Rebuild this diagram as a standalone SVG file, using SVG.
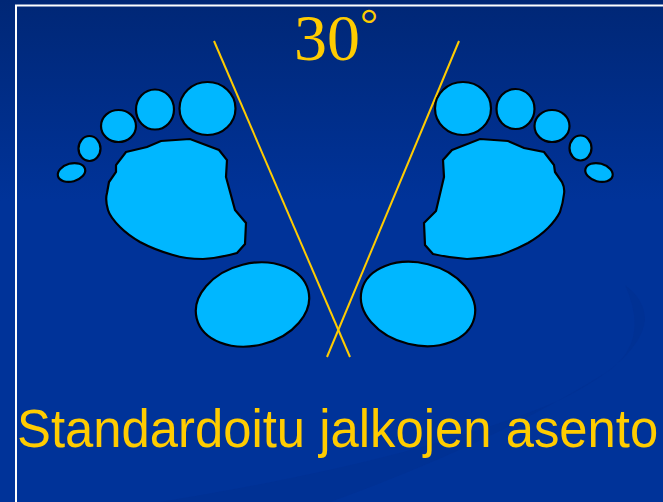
<svg xmlns="http://www.w3.org/2000/svg" width="663" height="502" viewBox="0 0 663 502">
<style>
.f{fill:#00b7ff;stroke:#000;stroke-width:2.200}
.l{stroke:#fc0;stroke-width:2;fill:none}
.t{fill:#fc0}
</style>
<defs>
<linearGradient id="bg" x1="0" y1="0" x2="0" y2="1"><stop offset="0" stop-color="#002776"/><stop offset="0.4" stop-color="#003399"/><stop offset="1" stop-color="#003399"/></linearGradient>
</defs>
<rect width="663" height="502" fill="url(#bg)"/>
<path d="M160 502Q420 460 560 400Q640 360 645 320Q645 300 625 285Q650 340 610 370Q500 440 330 502Z" fill="#003090" opacity="0.55"/>
<path d="M16 502V5.500H663" fill="none" stroke="#fff" stroke-width="2"/>
<g id="connectors">
<line class="l" x1="214" y1="41" x2="350" y2="357"/>
<line class="l" x1="459" y1="41" x2="327" y2="357"/>
</g>
<g id="left-foot">
<path class="f" d="M126 152L147 147L161 141L190 139L219 150L227 160L226 177L235 210L246 223L245 244L237 253Q220 258 203 259Q185 259 173 255Q155 250 140 242Q128 235 120 227Q110 217 108 210Q105 200 107 193L109 182L116 172L116 165Z"/>
<ellipse class="f" cx="207.500" cy="108.500" rx="28" ry="26.500"/>
<ellipse class="f" cx="155" cy="109.500" rx="19" ry="20"/>
<ellipse class="f" cx="118.500" cy="126" rx="17.500" ry="16"/>
<ellipse class="f" cx="89.500" cy="148.500" rx="11" ry="12.500"/>
<ellipse class="f" cx="71.500" cy="172.500" rx="14" ry="9" transform="rotate(-15 71.500 172.500)"/>
<ellipse class="f" cx="252.500" cy="304.500" rx="57.500" ry="41" transform="rotate(-14 252.500 304.500)"/>
</g>
<g id="right-foot">
<path class="f" d="M452 150L480 139L508 141L524 148L544 152L554 165L555 172L562 182Q565 188 564 194Q563 203 560 212Q556 220 548 228Q540 236 528 243Q515 250 500 255Q485 258 467 259Q450 258 433 254L425 245L424 223L436 211L444 177L443 160Z"/>
<ellipse class="f" cx="463" cy="108.500" rx="28" ry="26.500"/>
<ellipse class="f" cx="515.500" cy="109" rx="19" ry="20"/>
<ellipse class="f" cx="552" cy="126" rx="17.500" ry="16"/>
<ellipse class="f" cx="580.500" cy="148" rx="11" ry="12.500"/>
<ellipse class="f" cx="599" cy="172.500" rx="14" ry="9" transform="rotate(15 599 172.500)"/>
<ellipse class="f" cx="418" cy="304" rx="58" ry="41" transform="rotate(14 418 304)"/>
</g>
<text class="t" x="294" y="60" font-family="Liberation Serif, serif" font-size="66">30</text>
<text class="t" x="360" y="39" font-family="Liberation Serif, serif" font-size="45">°</text>
<text class="t" transform="translate(17 447) scale(.941 1)" font-family="Liberation Sans, sans-serif" font-size="54">Standardoitu jalkojen asento</text>
</svg>
